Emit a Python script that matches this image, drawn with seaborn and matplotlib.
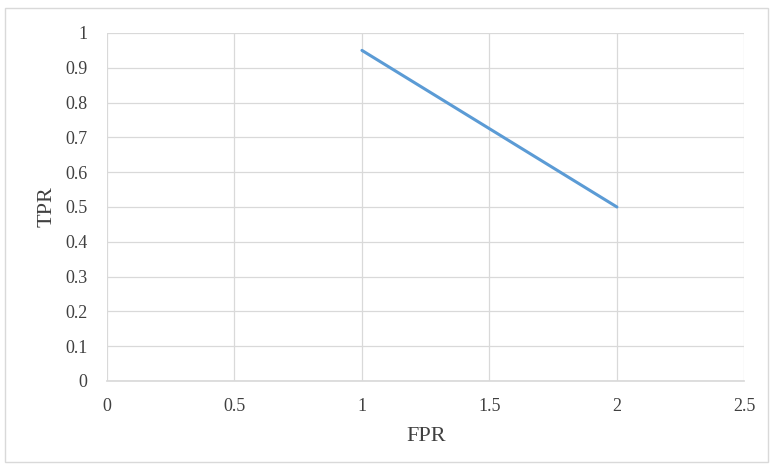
import matplotlib
matplotlib.use("Agg")
import matplotlib.pyplot as plt
import seaborn as sns
import pandas as pd
from matplotlib.patches import Rectangle

fpr = [1, 2]
tpr = [0.95, 0.5]
x_ticks = [0, 0.5, 1, 1.5, 2, 2.5]
x_labels = ["0", "0.5", "1", "1.5", "2", "2.5"]
y_ticks = [0, 0.1, 0.2, 0.3, 0.4, 0.5, 0.6, 0.7, 0.8, 0.9, 1.0]
y_labels = ["0", "0.1", "0.2", "0.3", "0.4", "0.5", "0.6", "0.7", "0.8", "0.9", "1"]

sns.set_theme(style="whitegrid")
plt.rcParams["font.family"] = ["Liberation Serif", "DejaVu Serif"]

df = pd.DataFrame({"FPR": fpr, "TPR": tpr})

fig = plt.figure(figsize=(7.73, 4.70), dpi=100)
ax = fig.add_axes([0.1384, 0.1894, 0.8246, 0.7404])
sns.lineplot(data=df, x="FPR", y="TPR", ax=ax, color="#5B9BD5", linewidth=2.2)

ax.set_xlim(0, 2.5)
ax.set_ylim(0, 1)
ax.set_xticks(x_ticks)
ax.set_xticklabels(x_labels)
ax.set_yticks(y_ticks)
ax.set_yticklabels(y_labels)
ax.grid(True, color="#d9d9d9", linewidth=0.9)
for s in ["top", "right", "left"]:
    ax.spines[s].set_visible(False)
ax.spines["bottom"].set_visible(True)
ax.spines["bottom"].set_color("#d9d9d9")
ax.tick_params(axis="both", labelsize=13, colors="#404040", length=0)
ax.tick_params(axis="x", pad=12)
ax.tick_params(axis="y", pad=14)
ax.set_xlabel("FPR", fontsize=16, color="#404040", labelpad=9)
ax.set_ylabel("TPR", fontsize=16, color="#404040", labelpad=6)
ax.set_facecolor("white")

fig.patches.append(Rectangle((0.007, 0.017), 0.986, 0.966, transform=fig.transFigure,
                             fill=False, edgecolor="#d9d9d9", linewidth=1))

fig.savefig("out.png", dpi=100, facecolor="white")
